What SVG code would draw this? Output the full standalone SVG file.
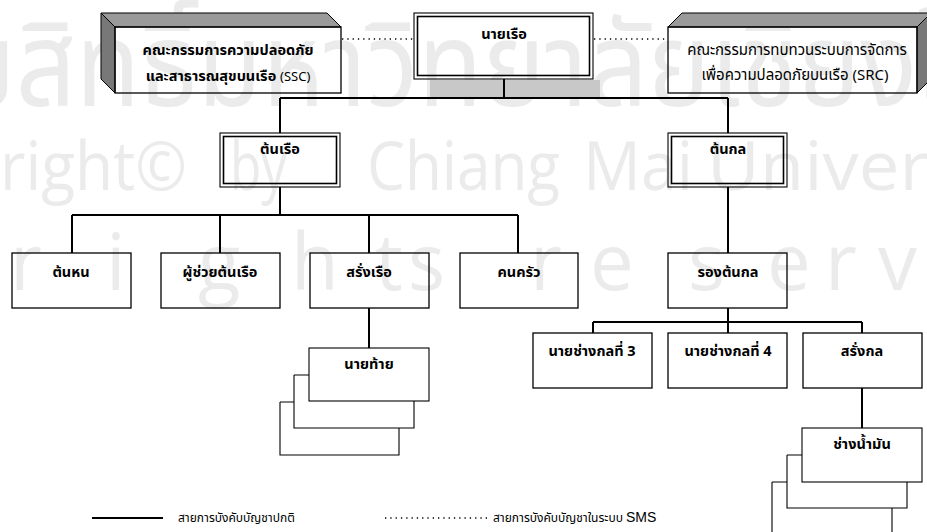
<svg xmlns="http://www.w3.org/2000/svg" width="927" height="532" viewBox="0 0 927 532">
<style>
.wm{fill:#ebebeb;font-family:"Open Sans","DejaVu Sans",sans-serif}
.wmt{fill:#ebebeb;font-family:"Noto Sans Thai","Tahoma","Noto Sans","DejaVu Sans",sans-serif}
.box{fill:none;stroke:#000;stroke-width:1.3}
.thin{fill:none;stroke:#000;stroke-width:1.1}
.lbl{font-family:"Tahoma","Noto Sans Thai","Noto Sans","DejaVu Sans",sans-serif;font-size:14.5px;font-weight:bold;fill:#000;text-anchor:middle}
.reg{font-family:"Tahoma","Noto Sans Thai","Noto Sans","DejaVu Sans",sans-serif;font-size:15px;fill:#000;text-anchor:middle}
.leg{font-family:"Tahoma","Noto Sans Thai","Noto Sans","DejaVu Sans",sans-serif;font-size:12px;fill:#000}
.conn{fill:none;stroke:#000;stroke-width:2}
.dot{fill:none;stroke:#000;stroke-width:1.3;stroke-dasharray:1.3 4}
.top{fill:#9a9a9a;stroke:#000;stroke-width:1}
.side{fill:#787878;stroke:#000;stroke-width:1}
</style>
<rect width="927" height="532" fill="#fff"/>
<g id="watermark">
<text class="wmt" x="-102" y="106" font-size="118" textLength="1176" lengthAdjust="spacingAndGlyphs">ลิขสิทธิ์มหาวิทยาลัยเชียงใหม่</text>
<text class="wm" x="0" y="190" font-size="68" textLength="187" lengthAdjust="spacingAndGlyphs">right©</text>
<text class="wm" x="230" y="190" font-size="68" textLength="57" lengthAdjust="spacingAndGlyphs">by</text>
<text class="wm" x="367" y="190" font-size="68" textLength="193" lengthAdjust="spacingAndGlyphs">Chiang</text>
<text class="wm" x="583" y="190" font-size="68" textLength="110" lengthAdjust="spacingAndGlyphs">Mai</text>
<text class="wm" x="707" y="190" font-size="68" textLength="222" lengthAdjust="spacingAndGlyphs">Univer</text>
<text class="wm" y="290" font-size="78"><tspan x="10">r</tspan><tspan x="106">i</tspan><tspan x="198">g</tspan><tspan x="291">h</tspan><tspan x="375">t</tspan><tspan x="408">s</tspan><tspan x="530">r</tspan><tspan x="590">e</tspan><tspan x="688">s</tspan><tspan x="767">e</tspan><tspan x="825">r</tspan><tspan x="878">v</tspan></text>
</g>
<rect x="430" y="80" width="170" height="17" fill="#c8c8c8"/>
<g id="connectors">
<path class="conn" d="M504 79V98M280 98H728M280 98V133M728 98V133"/>
<path class="conn" d="M280 187V215M72 215H518M72 215V253M220 215V253M369 215V253M518 215V253"/>
<path class="conn" d="M369 308V348"/>
<path class="conn" d="M728 187V253M728 308V322M593 322H862M593 322V333M728 322V333M862 322V333M862 388V428"/>
<path class="dot" d="M342 39H413M594 39H667"/>
</g>
<g id="ssc">
<path class="top" d="M101 13H327L341 27H115Z"/>
<path class="side" d="M101 13L115 27V93L101 79Z"/>
<rect class="box" x="115" y="27" width="226" height="66"/>
<text class="lbl" x="228" y="55" font-size="16.5">คณะกรรมการความปลอดภัย</text>
<text class="lbl" x="228" y="81" font-size="16.5">และสาธารณสุขบนเรือ <tspan font-weight="normal" font-size="13">(SSC)</tspan></text>
</g>
<g id="captain">
<rect class="thin" x="414" y="13" width="179" height="66"/>
<rect fill="none" stroke="#000" stroke-width="1.6" x="417.5" y="16.5" width="172" height="59"/>
<text class="lbl" x="504" y="39" font-size="17">นายเรือ</text>
</g>
<g id="src">
<path class="top" d="M668 27L682 13H931L917 27Z"/>
<path class="side" d="M917 27L931 13V79L917 93Z"/>
<rect class="box" x="668" y="27" width="249" height="66"/>
<text class="reg" x="797" y="55">คณะกรรมการทบทวนระบบการจัดการ</text>
<text class="reg" x="795" y="80">เพื่อความปลอดภัยบนเรือ (SRC)</text>
</g>
<g id="chief-officer">
<rect class="thin" x="220" y="133" width="120" height="54"/>
<rect fill="none" stroke="#000" stroke-width="1.6" x="223.5" y="136.5" width="113" height="47"/>
<text class="lbl" x="280" y="154">ต้นเรือ</text>
</g>
<g id="chief-engineer">
<rect class="thin" x="668" y="133" width="119" height="54"/>
<rect fill="none" stroke="#000" stroke-width="1.6" x="671.5" y="136.5" width="112" height="47"/>
<text class="lbl" x="728" y="154">ต้นกล</text>
</g>
<g id="second-officer">
<rect class="box" x="12" y="253" width="119" height="55"/>
<text class="lbl" x="71" y="277">ต้นหน</text>
</g>
<g id="third-officer">
<rect class="box" x="161" y="253" width="119" height="55"/>
<text class="lbl" x="220" y="277">ผู้ช่วยต้นเรือ</text>
</g>
<g id="bosun">
<rect class="box" x="310" y="253" width="119" height="55"/>
<text class="lbl" x="369" y="277">สรั่งเรือ</text>
</g>
<g id="cook">
<rect class="box" x="460" y="253" width="118" height="55"/>
<text class="lbl" x="519" y="277">คนครัว</text>
</g>
<g id="second-engineer">
<rect class="box" x="668" y="253" width="119" height="55"/>
<text class="lbl" x="728" y="277">รองต้นกล</text>
</g>
<g id="helmsman">
<path class="thin" d="M280 402V455H399V428M294 402H280"/>
<path class="thin" d="M294 375V428H414V401M309 375H294"/>
<rect class="thin" x="309" y="348" width="120" height="53"/>
<text class="lbl" x="369" y="369">นายท้าย</text>
</g>
<g id="third-engineer">
<rect class="box" x="533" y="333" width="119" height="55"/>
<text class="lbl" x="592" y="356">นายช่างกลที่ 3</text>
</g>
<g id="fourth-engineer">
<rect class="box" x="668" y="333" width="119" height="55"/>
<text class="lbl" x="728" y="356">นายช่างกลที่ 4</text>
</g>
<g id="engine-bosun">
<rect class="box" x="803" y="333" width="119" height="55"/>
<text class="lbl" x="862" y="356">สรั่งกล</text>
</g>
<g id="oiler">
<path class="thin" d="M772 482V540M772 482H787M892 508V540"/>
<path class="thin" d="M787 455V508H907V482M802 455H787"/>
<rect class="thin" x="802" y="428" width="120" height="54"/>
<text class="lbl" x="862" y="449">ช่างน้ำมัน</text>
</g>
<g id="legend">
<path class="conn" d="M92 518H163"/>
<text class="leg" x="178" y="522">สายการบังคับบัญชาปกติ</text>
<path class="dot" d="M385 518H487"/>
<text class="leg" x="493" y="522">สายการบังคับบัญชาในระบบ <tspan font-family="Liberation Sans,Arial,sans-serif" font-size="14">SMS</tspan></text>
</g>
</svg>
